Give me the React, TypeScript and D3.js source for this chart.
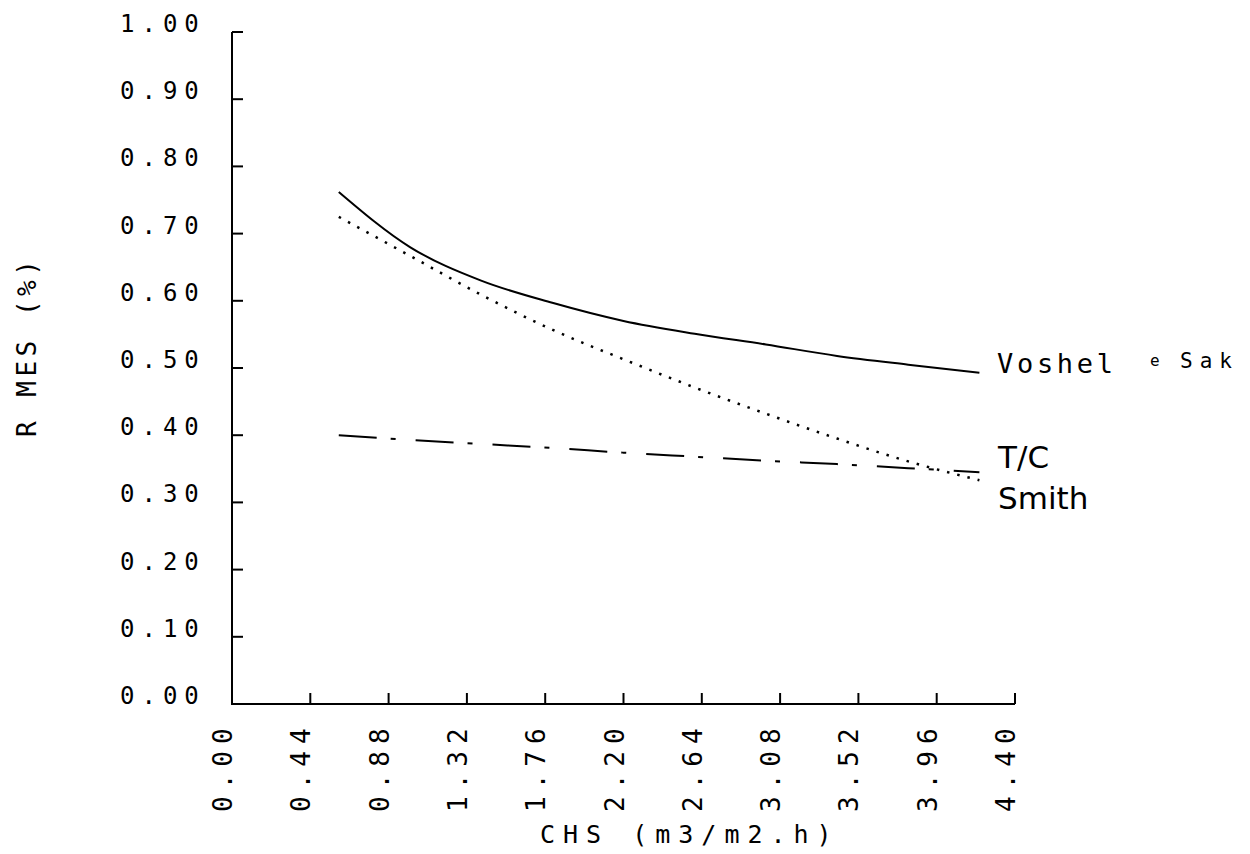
import React from 'react';
import * as d3 from 'd3';

// CHS (m3/m2.h) sample points
const chs = [0.6, 1.0, 1.4, 1.8, 2.2, 2.6, 3.0, 3.4, 3.8, 4.2];
const voshel = [0.762, 0.68, 0.63, 0.597, 0.57, 0.551, 0.535, 0.518, 0.505, 0.493];
const tc = [0.725, 0.667, 0.609, 0.557, 0.513, 0.471, 0.432, 0.395, 0.361, 0.333];
const smith = [0.4, 0.393, 0.387, 0.381, 0.374, 0.368, 0.362, 0.357, 0.351, 0.345];

const xTicks = [0, 0.44, 0.88, 1.32, 1.76, 2.2, 2.64, 3.08, 3.52, 3.96, 4.4];
const yTicks = [0, 0.1, 0.2, 0.3, 0.4, 0.5, 0.6, 0.7, 0.8, 0.9, 1.0];

const mono = 'DejaVu Sans Mono, monospace';
const sans = 'DejaVu Sans, sans-serif';

const App = () => {
  const width = 1250;
  const height = 854;

  const x = d3.scaleLinear().domain([0, 4.4]).range([232, 1015]);
  const y = d3.scaleLinear().domain([0, 1]).range([704, 32]);

  const line = d3
    .line<number>()
    .x((d, i) => x(chs[i]))
    .y((d) => y(d))
    .curve(d3.curveMonotoneX);

  return (
    <svg
      width={width}
      height={height}
      style={{ position: 'absolute', left: 0, top: 0, background: '#fff' }}
    >
      {/* axes */}
      <g stroke='black' strokeWidth={2} fill='none'>
        <path d={`M${x(0)},${y(1)}V${y(0)}H${x(4.4)}`} />
        {yTicks.map((t) => (
          <line key={'yt' + t} x1={x(0)} x2={x(0) + 11} y1={y(t)} y2={y(t)} />
        ))}
        {xTicks.map((t) => (
          <line key={'xt' + t} x1={x(t)} x2={x(t)} y1={y(0)} y2={y(0) - 11} />
        ))}
      </g>

      {/* y tick labels */}
      {yTicks.map((t) => (
        <text
          key={'yl' + t}
          x={120}
          y={y(t)}
          fontFamily={mono}
          fontSize={24}
          letterSpacing={7}
        >
          {t.toFixed(2)}
        </text>
      ))}

      {/* x tick labels */}
      {xTicks.map((t) => (
        <text
          key={'xl' + t}
          transform={`translate(${x(t)},812) rotate(-90)`}
          fontFamily={mono}
          fontSize={26}
          letterSpacing={7}
        >
          {t.toFixed(2)}
        </text>
      ))}

      <text x={540} y={843} fontFamily={mono} fontSize={25} letterSpacing={8}>
        CHS (m3/m2.h)
      </text>

      <text
        transform='translate(36,437) rotate(-90)'
        fontFamily={mono}
        fontSize={26}
        letterSpacing={4.5}
      >
        R MES (%)
      </text>

      {/* series */}
      <path d={line(voshel) || ''} fill='none' stroke='black' strokeWidth={2} />
      <path
        d={line(tc) || ''}
        fill='none'
        stroke='black'
        strokeWidth={2.5}
        strokeDasharray='2.5 8'
      />
      <path
        d={line(smith) || ''}
        fill='none'
        stroke='black'
        strokeWidth={2}
        strokeDasharray='38 14 5 20'
      />

      {/* series labels */}
      <text x={997} y={373} fontFamily={mono} fontSize={27} letterSpacing={3.7}>
        Voshel
      </text>
      <text x={1150} y={366} fontFamily={mono} fontSize={16}>
        e
      </text>
      <text x={1180} y={368} fontFamily={mono} fontSize={21} letterSpacing={7}>
        Sak
      </text>
      <text x={998} y={468} fontFamily={sans} fontSize={31}>
        T/C
      </text>
      <text x={998} y={509} fontFamily={sans} fontSize={31}>
        Smith
      </text>
    </svg>
  );
};

export default App;
